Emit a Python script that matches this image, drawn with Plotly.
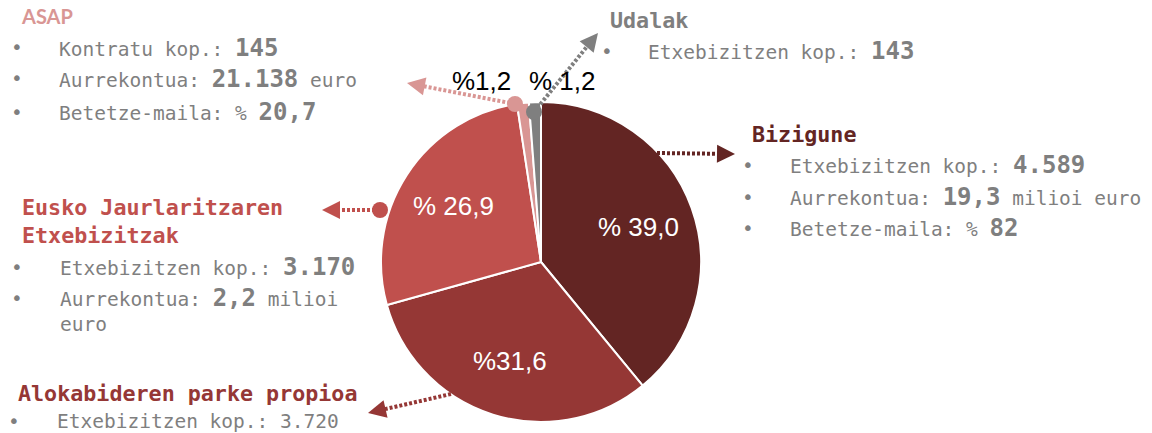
import math
import plotly.graph_objects as go

W, H = 1152, 433

# ---------------- data ----------------
categories = ["Bizigune", "Alokabideren parke propioa", "Eusko Jaurlaritzaren Etxebizitzak", "ASAP", "Udalak"]
shares = [39.0, 31.6, 26.9, 1.2, 1.2]
share_labels = ["% 39,0", "%31,6", "% 26,9", "%1,2", "% 1,2"]
slice_colors = ["#632523", "#953735", "#C0504D", "#D99694", "#7F7F7F"]

titles = {
    "ASAP": "ASAP",
    "Udalak": "Udalak",
    "Bizigune": "Bizigune",
    "Eusko": "Eusko Jaurlaritzaren<br>Etxebizitzak",
    "Alokabideren": "Alokabideren parke propioa",
}
asap_lines = [("Kontratu kop.: ", "145", ""), ("Aurrekontua: ", "21.138", " euro"), ("Betetze-maila: % ", "20,7", "")]
udalak_lines = [("Etxebizitzen kop.: ", "143", "")]
bizigune_lines = [("Etxebizitzen kop.: ", "4.589", ""), ("Aurrekontua: ", "19,3", " milioi euro"), ("Betetze-maila: % ", "82", "")]
eusko_lines = [("Etxebizitzen kop.: ", "3.170", ""), ("Aurrekontua: ", "2,2", " milioi"), ("euro", "", "")]
alok_lines = [("Etxebizitzen kop.: 3.720", "", "")]

# ---------------- helpers ----------------
def px(x):
    return x / W

def py(y):
    return 1 - y / H

GRAY = "#7F7F7F"
MONO = "DejaVu Sans Mono"
SANS = "Liberation Sans, Arial"

cx, cy, R = 541, 262, 160

fig = go.Figure()
fig.add_trace(go.Pie(
    values=shares, labels=categories, text=share_labels,
    textinfo="none", sort=False, direction="clockwise", rotation=0,
    marker=dict(colors=slice_colors, line=dict(color="white", width=2)),
    domain=dict(x=[px(cx - R), px(cx + R)], y=[py(cy + R), py(cy - R)]),
    showlegend=False, hoverinfo="label+percent",
))

annotations = []
shapes = []

def text_ann(x, y, text, size=19.5, color=GRAY, family=MONO):
    annotations.append(dict(x=px(x), y=py(y), xref="paper", yref="paper", text=text,
                            showarrow=False, xanchor="left", yanchor="middle",
                            font=dict(family=family, size=size, color=color), borderpad=0))

def info_block(bx, tx, ys, lines):
    for y, (pre, num, post) in zip(ys, lines):
        if pre != "euro":
            text_ann(bx - 5, y, "•", size=19.5)
        t = pre
        if num:
            t += "<b><span style='font-size:24px'>" + num + "</span></b>"
        t += post
        text_ann(tx, y, t)

# percentage labels inside big slices, placed at slice mid-angle
total = sum(shares)
cum = 0.0
for i, (s, lab) in enumerate(zip(shares, share_labels)):
    mid = (cum + s / 2) / total * 2 * math.pi
    cum += s
    if s < 5:
        continue
    lx = cx + 0.65 * R * math.sin(mid)
    ly = cy - 0.65 * R * math.cos(mid)
    annotations.append(dict(x=px(lx), y=py(ly), xref="paper", yref="paper", text=lab,
                            showarrow=False, xanchor="center", yanchor="middle",
                            font=dict(family=SANS, size=26, color="white")))

# titles
text_ann(20, 16, "<b>" + titles["ASAP"] + "</b>", size=20, color=slice_colors[3], family="Lato")
text_ann(609, 20, "<b>" + titles["Udalak"] + "</b>", size=21.7, color=GRAY)
text_ann(751, 135, "<b>" + titles["Bizigune"] + "</b>", size=21.7, color=slice_colors[0])
annotations.append(dict(x=px(21), y=py(221), xref="paper", yref="paper", text="<b>" + titles["Eusko"] + "</b>",
                        showarrow=False, xanchor="left", yanchor="middle", align="left",
                        font=dict(family=MONO, size=21.7, color=slice_colors[2]), borderpad=0))
text_ann(17, 393, "<b>" + titles["Alokabideren"] + "</b>", size=21.7, color=slice_colors[1])

# info lines
info_block(15, 58, [48, 79, 112], asap_lines)
info_block(605, 647, [51], udalak_lines)
info_block(746, 789, [165, 197, 228], bizigune_lines)
info_block(15, 59, [267, 298, 324], eusko_lines)
info_block(12, 56, [421], alok_lines)

# small slice labels (outside)
annotations.append(dict(x=px(481), y=py(81), xref="paper", yref="paper", text=share_labels[3],
                        showarrow=False, xanchor="center", yanchor="middle",
                        font=dict(family=SANS, size=26, color="black")))
annotations.append(dict(x=px(562), y=py(81), xref="paper", yref="paper", text=share_labels[4],
                        showarrow=False, xanchor="center", yanchor="middle",
                        font=dict(family=SANS, size=26, color="black")))

# callout arrows: (start, tip, color, circle?)
callouts = [
    ((515, 104), (407, 83), slice_colors[3], True),
    ((534, 112), (598, 33), slice_colors[4], True),
    ((657, 153), (735, 154), slice_colors[0], False),
    ((380, 210), (322, 210), slice_colors[2], True),
    ((451, 394), (368, 413), slice_colors[1], False),
]
for (x0, y0), (x1, y1), col, circ in callouts:
    dx, dy = x1 - x0, y1 - y0
    L = (dx * dx + dy * dy) ** 0.5
    ux, uy = dx / L, dy / L
    ex, ey = x1 - ux * 10, y1 - uy * 10
    shapes.append(dict(type="line", xref="paper", yref="paper", x0=px(x0), y0=py(y0), x1=px(ex), y1=py(ey),
                       line=dict(color=col, width=4, dash="3px,2px"), layer="above"))
    if circ:
        shapes.append(dict(type="circle", xref="paper", yref="paper", xsizemode="pixel", ysizemode="pixel",
                           xanchor=px(x0), yanchor=py(y0), x0=-8, x1=8, y0=-8, y1=8,
                           fillcolor=col, line=dict(width=0), layer="above"))
    annotations.append(dict(x=px(x1), y=py(y1), xref="paper", yref="paper", text="",
                            showarrow=True, ax=-ux * 12, ay=-uy * 12, arrowhead=2,
                            arrowsize=1.5, arrowwidth=2.4, arrowcolor=col, standoff=0))

fig.update_layout(
    width=W, height=H, margin=dict(l=0, r=0, t=0, b=0),
    paper_bgcolor="white", plot_bgcolor="white",
    annotations=annotations, shapes=shapes,
)

fig.write_html("out.html")
